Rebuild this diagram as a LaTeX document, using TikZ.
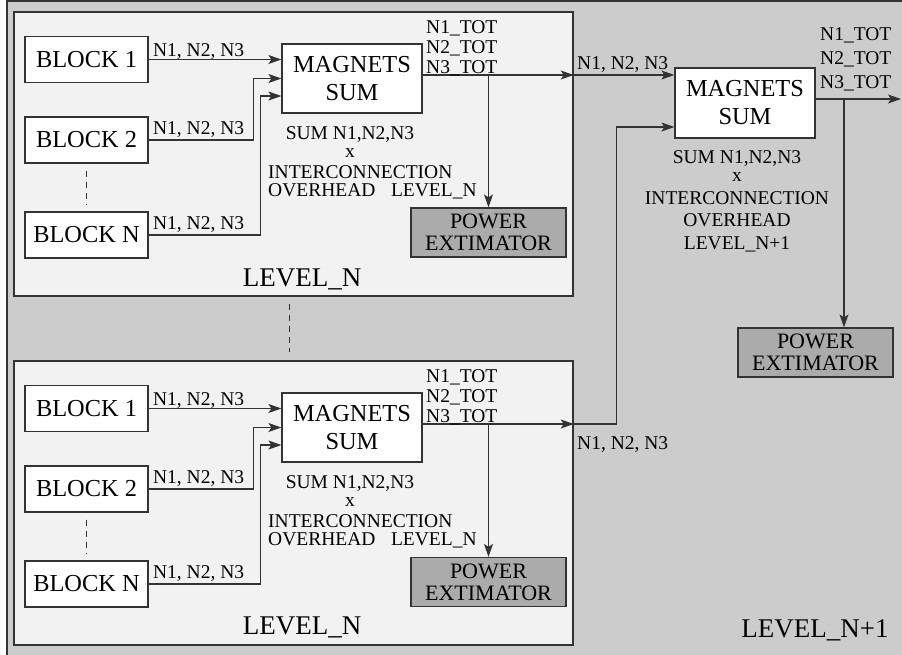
\documentclass[tikz,border=0pt]{standalone}
\usepackage{fontspec}
\setmainfont{Liberation Serif}
\usetikzlibrary{arrows.meta, positioning, calc}
\definecolor{outergray}{gray}{0.8}
\definecolor{levelgray}{gray}{0.95}
\definecolor{powgray}{gray}{0.67}
\definecolor{linegray}{gray}{0.2}

\begin{document}
\begin{tikzpicture}[
  x=1pt, y=-1pt,
  block/.style={rectangle, draw=linegray, fill=white, line width=1.2pt,
                minimum width=123pt, minimum height=46pt, inner sep=0pt,
                align=center, font=\fontsize{24.4}{28}\selectfont},
  sumbox/.style={block, minimum width=140pt, minimum height=69pt},
  powbox/.style={rectangle, draw=linegray, fill=powgray, line width=1.2pt,
                 minimum width=155pt, minimum height=49pt, inner sep=0pt,
                 align=center, font=\fontsize{22}{22}\selectfont},
  levelbox/.style={rectangle, draw=linegray, fill=levelgray, line width=1.4pt,
                   minimum width=559pt, minimum height=284pt, inner sep=0pt},
  lbl/.style={font=\fontsize{19.5}{20}\selectfont, inner sep=0pt},
  levtxt/.style={font=\fontsize{27}{30}\selectfont, inner sep=0pt},
  arrow/.style={-{Stealth[length=13pt, width=9pt, inset=3pt]}, line width=1.1pt, draw=linegray},
  dots/.style={draw=linegray, line width=1pt, dash pattern=on 6pt off 5pt},
]
  \useasboundingbox (0,0) rectangle (902,654);
  \clip (0,0) rectangle (902,654);
  \draw[draw=linegray, line width=1.5pt, fill=outergray] (7,1) rectangle (920,670);

  % level N (top)
  \node[levelbox] (lvtop) at (293.5,154) {};
  \node[block] (blk1a) at (86.5,59.5) {BLOCK 1};
  \node[block] (blk2a) at (86.5,140) {BLOCK 2};
  \node[block] (blkna) at (86.5,235) {BLOCK N};
  \node[sumbox] (maga) at (352,78.5) {MAGNETS\\SUM};
  \node[powbox] (powa) at (488.5,232.5) {POWER\\EXTIMATOR};
  \coordinate (outa) at ([yshift=3.5pt]maga.east);

  \draw[arrow] (blk1a.east) node[lbl, anchor=base west, xshift=4pt, yshift=3pt] {N1, N2, N3}
    -- (blk1a.east -| maga.west);
  \draw[arrow] (blk2a.east) node[lbl, anchor=base west, xshift=4pt, yshift=6pt] {N1, N2, N3}
    -- ++(105,0) |- (maga.west);
  \draw[arrow] (blkna.east) node[lbl, anchor=base west, xshift=4pt, yshift=6pt] {N1, N2, N3}
    -- ++(112,0) |- ([yshift=-17.5pt]maga.west);
  \draw[dots] ([yshift=-7pt]blk2a.south) -- ([yshift=7pt]blkna.north);
  \draw[arrow] (outa) -- (outa -| lvtop.east);
  \draw[arrow] (powa.north |- outa) -- (powa.north);

  \node[lbl, anchor=north west, align=left] (tota) at (426,20) {N1\_TOT\\N2\_TOT\\N3\_TOT};
  \node[lbl, anchor=north, align=center] (suma) at (350,126) {SUM N1,N2,N3\\[-2pt]x};
  \node[lbl, anchor=north west, align=left] (ovha) at (268,165)
    {INTERCONNECTION\\[-2pt]OVERHEAD\hspace{0.8em}LEVEL\_N};
  \node[levtxt, anchor=base] (leva) at (302,286) {LEVEL\_N};

  \draw[dots] ([xshift=-4.5pt, yshift=-7pt]lvtop.south) -- (289,352);

  % level N (bottom)
  \node[levelbox] (lvbot) at (293.5,503) {};
  \node[block] (blk1b) at (86.5,408.5) {BLOCK 1};
  \node[block] (blk2b) at (86.5,489) {BLOCK 2};
  \node[block] (blknb) at (86.5,584) {BLOCK N};
  \node[sumbox] (magb) at (352,427.5) {MAGNETS\\SUM};
  \node[powbox] (powb) at (488.5,582) {POWER\\EXTIMATOR};
  \coordinate (outb) at ([yshift=3.5pt]magb.east);

  \draw[arrow] (blk1b.east) node[lbl, anchor=base west, xshift=4pt, yshift=3pt] {N1, N2, N3}
    -- (blk1b.east -| magb.west);
  \draw[arrow] (blk2b.east) node[lbl, anchor=base west, xshift=4pt, yshift=6pt] {N1, N2, N3}
    -- ++(105,0) |- (magb.west);
  \draw[arrow] (blknb.east) node[lbl, anchor=base west, xshift=4pt, yshift=6pt] {N1, N2, N3}
    -- ++(112,0) |- ([yshift=-17.5pt]magb.west);
  \draw[dots] ([yshift=-7pt]blk2b.south) -- ([yshift=7pt]blknb.north);
  \draw[arrow] (outb) -- (outb -| lvbot.east);
  \draw[arrow] (powb.north |- outb) -- (powb.north);

  \node[lbl, anchor=north west, align=left] (totb) at (426,369) {N1\_TOT\\N2\_TOT\\N3\_TOT};
  \node[lbl, anchor=north, align=center] (sumb) at (350,475) {SUM N1,N2,N3\\[-2pt]x};
  \node[lbl, anchor=north west, align=left] (ovhb) at (268,514)
    {INTERCONNECTION\\[-2pt]OVERHEAD\hspace{0.8em}LEVEL\_N};
  \node[levtxt, anchor=base] (levb) at (302,634) {LEVEL\_N};

  % level N+1
  \node[sumbox, minimum height=70pt] (magr) at (745,103) {MAGNETS\\SUM};
  \node[powbox] (powr) at (815.5,352.5) {POWER\\EXTIMATOR};
  \coordinate (outr) at ([yshift=4pt]magr.east);
  \coordinate (tapr) at (844,99);
  \coordinate (exitr) at (901,99);

  \draw[arrow] (outa -| lvtop.east) -- (outa -| magr.west);
  \node[lbl, anchor=base west] (inra) at (577,69) {N1, N2, N3};
  \draw[arrow] (outb -| lvbot.east) -- ++(43,0) |- ([yshift=-24pt]magr.west);
  \node[lbl, anchor=base west] (inrb) at (577,449) {N1, N2, N3};
  \draw[arrow] (outr) -- (exitr);
  \draw[arrow] (tapr) -- (tapr |- powr.north);

  \node[lbl, anchor=north west, align=left, font=\fontsize{19.5}{24}\selectfont] (totr)
    at (820,27) {N1\_TOT\\N2\_TOT\\N3\_TOT};
  \node[lbl, anchor=north, align=center, font=\fontsize{19.5}{22}\selectfont] (sumr)
    at (737,150) {SUM N1,N2,N3\\[-4pt]x\\[1pt]INTERCONNECTION\\OVERHEAD\\[1pt]LEVEL\_N+1};
  \node[levtxt, anchor=base] (levr) at (815,637) {LEVEL\_N+1};
\end{tikzpicture}
\end{document}
